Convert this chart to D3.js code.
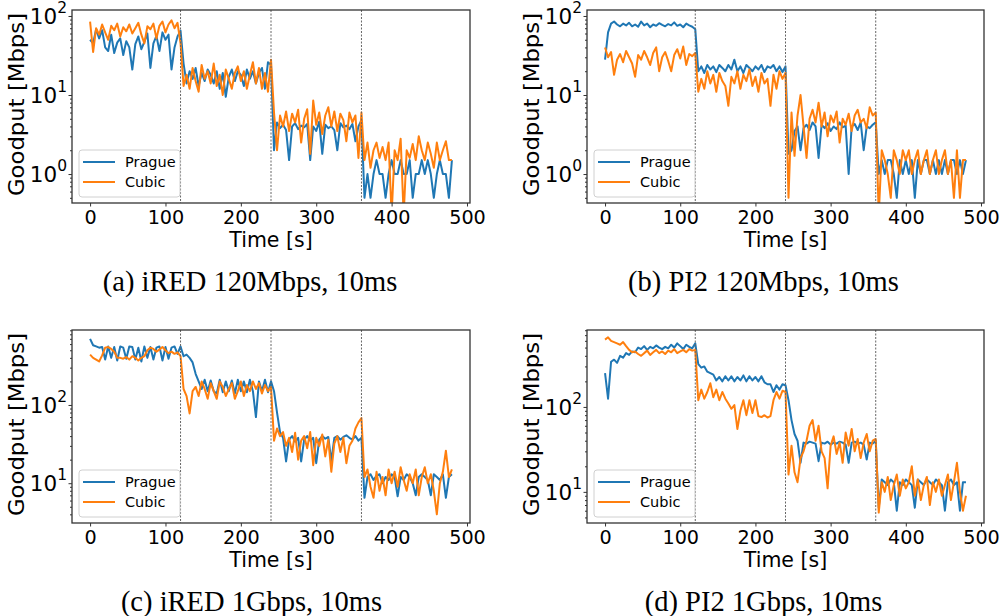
<!DOCTYPE html>
<html><head><meta charset="utf-8">
<script src="https://cdn.jsdelivr.net/npm/d3@7"></script>
<style>body{margin:0;background:#fff} svg{display:block}</style>
</head><body>
<svg id="chart" width="1008" height="616"></svg>
<script>
// ---------------- data ----------------
const times = d3.range(0, 481, 4); // sampling grid, seconds
const seriesNames = ["Prague", "Cubic"];
const xTicks = [0, 100, 200, 300, 400, 500];
const phaseEdges = [120, 240, 360];
const captions = ["(a) iRED 120Mbps, 10ms", "(b) PI2 120Mbps, 10ms", "(c) iRED 1Gbps, 10ms", "(d) PI2 1Gbps, 10ms"];
const yTickExpsTop = [0, 1, 2];
const yTickExpsBottom = [1, 2];

const aPrague = [50,45,68,52,66,40,36,58,34,46, 52,32,48,40,21,44,55,38,47,60, 22,45,56,36,62,50,58,21,40,55, 65,
  25,14,20,16,22,13,19,15,21,18, 14,20,12,19,9.5,17,21,15,20,18, 13,21,16,20,14,19,22,12,26,24,
  2.0,4.5,3.8,4.2,3.6,1.5,4.0,4.4,3.7,4.1, 3.9,4.3,1.5,4.0,3.5,4.6,1.8,4.2,3.8,4.0, 3.6,2.0,4.4,3.9,4.1,3.7,4.3,2.6,4.0,4.8,
  0.5,1.0,0.5,1.0,1.5,1.0,1.0,0.5,1.0,1.5, 1.0,1.0,1.5,1.0,1.0,1.5,0.5,1.0,1.0,1.5, 1.0,1.5,1.0,0.5,1.0,1.5,1.0,1.0,0.5,1.5];
const aCubic = [85,35,70,58,78,62,50,75,66,80, 55,72,64,78,60,70,82,58,45,74, 68,80,52,75,85,62,78,88,70,82, 45,
  13,18,12,22,15,11,24,16,20,14, 25,13,18,10,21,16,12,19,23,15, 20,12,18,26,14,22,12,19,11,28,
  6.0,2.0,5.5,4.0,6.2,3.5,5.8,4.5,6.5,2.5, 5.0,6.6,1.8,8.5,4.2,6.0,3.2,5.5,7.0,4.0, 6.2,3.5,5.8,4.8,2.6,6.0,4.5,5.5,1.6,6.0,
  1.5,2.5,1.2,2.0,2.5,1.6,2.2,1.5,2.5,0.3, 2.0,1.5,2.8,0.3,2.0,1.6,2.4,1.5,3.0,2.0, 1.5,2.5,1.8,1.2,2.5,1.5,2.0,2.6,1.5,1.5];
const bPrague = [28,62,80,85,78,74,80,76,82,74, 78,73,85,76,80,72,78,75,81,77, 74,79,76,83,75,78,72,80,76,73, 68,
  20,23,19,24,21,23,19.5,24,22,20, 24,21,28,20,23,19,24,22,20,23, 21,24,19.5,23,22,24,20,23,19.5,23,
  1.8,2.0,3.5,4.0,2.0,3.8,4.2,3.6,4.5,4.0, 1.6,4.2,3.8,4.4,3.5,4.0,3.7,4.5,3.9,4.1, 1.0,4.0,4.3,3.6,4.5,2.0,4.0,3.8,4.2,4.5,
  1.0,1.5,1.0,1.5,1.5,1.0,0.5,1.5,1.0,1.5, 1.0,1.5,0.5,1.5,1.0,1.5,1.5,1.0,1.5,1.0, 1.5,1.0,1.5,1.0,1.5,1.5,1.0,1.5,1.0,1.5];
const bCubic = [40,30,35,18,28,33,26,36,30,25, 17,32,28,36,30,24,34,40,20,30, 35,27,20,32,38,29,41,24,33,31, 34,
  11,16,12,20,14,18,11,19,15,13, 7.3,17,14,20,12,18,15,21,13,17, 11,19,14,16,7.3,18,12,20,16,19,
  0.5,6.0,1.7,5.5,10,4.0,1.6,5.0,6.5,4.5, 8.0,4.0,6.0,3.0,5.5,4.5,6.2,2.5,5.0,4.2, 5.8,3.5,5.5,6.5,4.5,5.0,3.8,7.0,5.5,6.0,
  0.3,2.0,1.5,1.0,0.5,2.0,1.5,1.0,2.0,1.5, 2.0,1.0,1.5,2.0,1.0,1.5,2.0,1.0,1.5,2.0, 1.0,1.5,2.0,1.0,1.5,0.5,2.0,0.5,1.5,1.5];
const cPrague = [700,580,560,540,550,380,560,400,550,370, 560,540,390,560,550,380,540,360,560,400, 550,380,540,560,370,550,390,540,560,450, 560,
  420,440,400,350,250,200,160,210,150,205, 150,140,210,145,200,150,205,140,210,150, 200,145,210,150,70,200,150,210,145,200,
  150,80,45,38,19,36,40,34,38,19, 36,40,35,38,18,36,40,37,39,19, 38,40,36,39,41,38,36,40,35,38,
  6.5,12,13,11,12.5,13,10,12,11,13, 12,6.8,12,11,13,12,10,7,12,13, 12,11,7,13,12,11,13,6.5,12,13];
const cCubic = [440,400,380,360,430,540,550,520,480,400, 400,390,410,380,420,400,370,400,420,500, 540,520,480,510,550,500,460,480,450,470, 420,
  160,130,78,150,170,130,200,160,120,190, 150,120,200,170,130,160,190,120,150,200, 130,180,150,200,160,190,140,180,150,170,
  35,50,40,45,30,38,25,44,20,35, 40,28,45,17,38,30,42,22,36,14, 32,40,25,38,18,30,35,50,60,68,
  12,15,9,6.5,14,8,12,7,15,10, 14,9,16,11,8,13,10,15,7,12, 16,10,13,8,4,10,14,26,12,15];
const dPrague = [250,125,340,360,330,400,380,430,410,450, 440,500,480,520,470,510,490,530,500,480, 510,490,540,500,560,520,480,540,510,490, 560,
  320,290,300,260,250,240,205,225,200,230, 205,230,200,225,205,235,200,230,205,225, 200,230,195,185,185,150,180,160,185,180,
  120,70,48,40,22,38,37,39,38,37, 23,38,37,39,36,38,37,39,38,36, 22,38,39,37,38,36,24,38,37,40,
  6.5,14,13,12,14,13,6,13,12,14, 13,12,6.5,14,13,12,14,13,12,14, 13,12,6,13,14,12,13,6,13,13];
const dCubic = [620,660,600,580,560,540,580,520,470,440, 450,420,400,430,460,410,440,470,430,450, 420,460,440,480,430,450,470,440,480,460, 470,
  120,160,125,150,190,130,160,120,150,125, 110,95,105,55,90,120,80,120,85,120, 78,76,80,75,78,120,150,125,155,150,
  16,35,17,13,25,30,40,60,70,40, 60,30,25,11,35,45,28,38,22,50, 35,55,30,42,25,38,48,30,40,42,
  5.7,13,10,15,8,12,16,9,14,11, 13,20,9,14,8,12,15,7,13,10, 14,9,12,16,8,13,22,10,6,9];

// ---------------- layout ----------------
const colors = {Prague: "#1f77b4", Cubic: "#ff7f0e"};
const SANS = "DejaVu Sans";
const panels = [
  {left:72,  right:470, top:10,  bottom:203, yDom:[0.43,119], exps:yTickExpsTop,    series:[aPrague,aCubic], cap:captions[0], capX:250,   capY:291, ylabX:24},
  {left:587, right:984, top:10,  bottom:203, yDom:[0.43,119], exps:yTickExpsTop,    series:[bPrague,bCubic], cap:captions[1], capX:763.5, capY:291, ylabX:539},
  {left:72,  right:470, top:330, bottom:523, yDom:[3.1,908],  exps:yTickExpsBottom, series:[cPrague,cCubic], cap:captions[2], capX:251.5, capY:611, ylabX:24},
  {left:587, right:984, top:330, bottom:523, yDom:[4.3,805],  exps:yTickExpsBottom, series:[dPrague,dCubic], cap:captions[3], capX:763.5, capY:611, ylabX:539}
];

const svg = d3.select("#chart");
svg.append("rect").attr("width",1008).attr("height",616).attr("fill","#fff");

panels.forEach((p, pi) => {
  const x = d3.scaleLinear().domain([-24, 504]).range([p.left, p.right]);
  const y = d3.scaleLog().domain(p.yDom).range([p.bottom, p.top]);
  const g = svg.append("g");
  const clipId = "clip" + pi;
  svg.append("clipPath").attr("id", clipId).append("rect")
    .attr("x", p.left).attr("y", p.top).attr("width", p.right - p.left).attr("height", p.bottom - p.top);

  const plot = g.append("g").attr("clip-path", `url(#${clipId})`);
  const line = d3.line().x((d, i) => x(times[i])).y(d => y(d));
  p.series.forEach((vals, si) => {
    plot.append("path").datum(vals).attr("d", line)
      .attr("fill", "none").attr("stroke", colors[seriesNames[si]])
      .attr("stroke-width", 2).attr("stroke-linejoin", "round");
  });
  plot.selectAll("line.vl").data(phaseEdges).enter().append("line")
    .attr("x1", d => x(d)).attr("x2", d => x(d)).attr("y1", p.top).attr("y2", p.bottom)
    .attr("stroke", "#666").attr("stroke-width", 1).attr("stroke-dasharray", "2,1.5");

  // frame
  g.append("rect").attr("x", p.left).attr("y", p.top).attr("width", p.right - p.left).attr("height", p.bottom - p.top)
    .attr("fill", "none").attr("stroke", "#333").attr("stroke-width", 1.3);

  // x axis
  const xa = g.append("g").attr("transform", `translate(0,${p.bottom})`)
    .call(d3.axisBottom(x).tickValues(xTicks).tickSize(3.5).tickPadding(4).tickFormat(d3.format("d")));
  xa.select(".domain").remove();
  xa.selectAll("line").attr("stroke", "#333");
  xa.selectAll("text").attr("font-family", SANS).attr("font-size", "19.2px").attr("fill", "#000");

  // y axis (log)
  const minor = [];
  const lo = Math.floor(Math.log10(p.yDom[0])), hi = Math.ceil(Math.log10(p.yDom[1]));
  for (let e = lo; e <= hi; e++) for (let m = 2; m <= 9; m++) {
    const v = m * Math.pow(10, e);
    if (v >= p.yDom[0] && v <= p.yDom[1]) minor.push(v);
  }
  const ym = g.append("g").attr("transform", `translate(${p.left},0)`)
    .call(d3.axisLeft(y).tickValues(minor).tickSize(2).tickFormat(""));
  ym.select(".domain").remove();
  ym.selectAll("line").attr("stroke", "#333");
  const ya = g.append("g").attr("transform", `translate(${p.left},0)`)
    .call(d3.axisLeft(y).tickValues(p.exps.map(e => Math.pow(10, e))).tickSize(3.5).tickPadding(1.5).tickFormat(""));
  ya.select(".domain").remove();
  ya.selectAll("line").attr("stroke", "#333");
  ya.selectAll(".tick").each(function(d, i) {
    const t = d3.select(this).select("text")
      .attr("font-family", SANS).attr("font-size", "21.5px").attr("fill", "#000").attr("dy", "0.36em");
    t.text(null);
    t.append("tspan").text("10");
    t.append("tspan").attr("font-size", "15.5px").attr("dy", "-0.72em").text(String(p.exps[i]));
  });

  // axis labels
  g.append("text").attr("x", (p.left + p.right) / 2).attr("y", p.bottom + 44)
    .attr("text-anchor", "middle").attr("font-family", SANS).attr("font-size", "20.5px").text("Time [s]");
  g.append("text").attr("transform", `translate(${p.ylabX},${(p.top + p.bottom) / 2 - 2}) rotate(-90) scale(1.1,1)`)
    .attr("text-anchor", "middle").attr("font-family", SANS).attr("font-size", "20.7px").text("Goodput [Mbps]");

  // legend
  const lx = p.left + 7, lw = 101, lh = 47, ly = p.bottom - 6 - lh;
  const lg = g.append("g");
  lg.append("rect").attr("x", lx).attr("y", ly).attr("width", lw).attr("height", lh).attr("rx", 3)
    .attr("fill", "#fff").attr("fill-opacity", 0.8).attr("stroke", "#d0d0d0").attr("stroke-width", 1);
  seriesNames.forEach((name, si) => {
    const yy = ly + 12 + si * 20;
    lg.append("line").attr("x1", lx + 4).attr("x2", lx + 36).attr("y1", yy).attr("y2", yy)
      .attr("stroke", colors[name]).attr("stroke-width", 2);
    lg.append("text").attr("x", lx + 46).attr("y", yy + 5).attr("font-family", SANS)
      .attr("font-size", "14.5px").attr("fill", "#000").text(name);
  });

  // caption
  svg.append("text").attr("x", p.capX).attr("y", p.capY).attr("text-anchor", "middle")
    .attr("font-family", "Liberation Serif").attr("font-size", "28.5px").attr("fill", "#000").text(p.cap);
});
</script>
</body></html>
